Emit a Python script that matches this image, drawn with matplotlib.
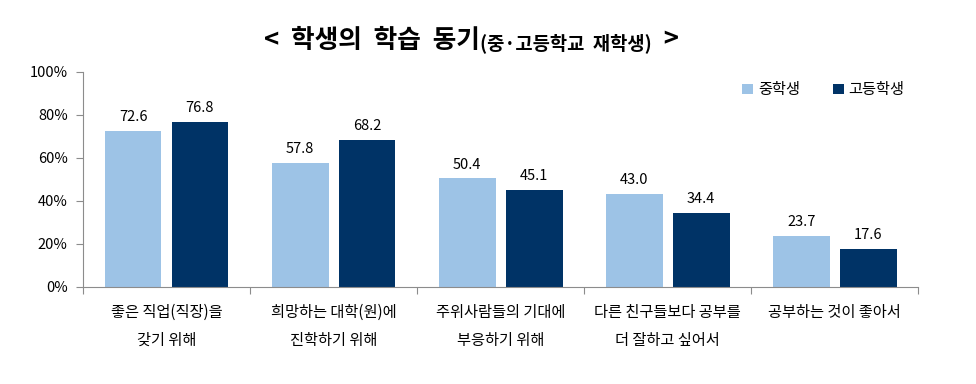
import numpy as np
import matplotlib
matplotlib.use("Agg")
import matplotlib.pyplot as plt
from matplotlib.ticker import FuncFormatter, FixedLocator

plt.rcParams['font.family'] = ['Noto Sans CJK KR', 'DejaVu Sans']

categories = ["좋은 직업(직장)을\n갖기 위해", "희망하는 대학(원)에\n진학하기 위해",
              "주위사람들의 기대에\n부응하기 위해", "다른 친구들보다 공부를\n더 잘하고 싶어서",
              "공부하는 것이 좋아서"]
middle = [72.6, 57.8, 50.4, 43.0, 23.7]
high = [76.8, 68.2, 45.1, 34.4, 17.6]
series_names = ["중학생", "고등학생"]

light = "#9DC3E6"
dark = "#003366"
spine_c = "#8C8C8C"

fig = plt.figure(figsize=(9.76, 3.84), dpi=100)
ax = fig.add_axes([0.085, 0.253, 0.856, 0.56])

x = np.arange(len(categories))
w = 0.34
b1 = ax.bar(x - 0.2, middle, w, color=light, label=series_names[0])
b2 = ax.bar(x + 0.2, high, w, color=dark, label=series_names[1])

for bars, vals in ((b1, middle), (b2, high)):
    for r, v in zip(bars, vals):
        ax.annotate(f"{v:.1f}", xy=(r.get_x() + r.get_width() / 2, v), xytext=(0, 5),
                    textcoords="offset points", ha="center", va="bottom", fontsize=10.5)

ax.set_xlim(-0.5, len(categories) - 0.5)
ax.set_ylim(0, 100)
ax.yaxis.set_major_locator(FixedLocator([0, 20, 40, 60, 80, 100]))
ax.yaxis.set_major_formatter(FuncFormatter(lambda v, p: f"{v:.0f}%"))

# category separators as tick marks, labels as minor ticks
ax.xaxis.set_major_locator(FixedLocator(np.arange(len(categories) + 1) - 0.5))
ax.xaxis.set_major_formatter(FuncFormatter(lambda v, p: ""))
ax.xaxis.set_minor_locator(FixedLocator(x))
ax.set_xticklabels(categories, minor=True, fontsize=11, linespacing=1.9, va="top")
ax.tick_params(axis="x", which="minor", length=0, pad=12)
ax.tick_params(axis="x", which="major", length=5, color=spine_c, direction="out")
ax.tick_params(axis="y", length=5, color=spine_c, direction="out", labelsize=10.5, pad=6)

for s in ("top", "right"):
    ax.spines[s].set_visible(False)
for s in ("left", "bottom"):
    ax.spines[s].set_color(spine_c)

leg = ax.legend(loc="upper right", bbox_to_anchor=(1.0, 1.02), ncol=2, frameon=False,
                fontsize=11, handlelength=0.7, handleheight=0.7, handletextpad=0.3,
                columnspacing=2.2)

# title with mixed sizes
t1 = fig.text(0.271, 0.875, "<  학생의  학습  동기", fontsize=18.5, fontweight="bold",
              ha="left", va="baseline")
t2 = ax.annotate("(중·고등학교  재학생)", xy=(1, 0.02), xycoords=t1, fontsize=13.5,
                 fontweight="bold", ha="left", va="bottom")
t3 = ax.annotate("  >", xy=(1, 0), xycoords=t2, fontsize=18.5, fontweight="bold",
                 ha="left", va="bottom")

fig.savefig("out.png", dpi=100)
